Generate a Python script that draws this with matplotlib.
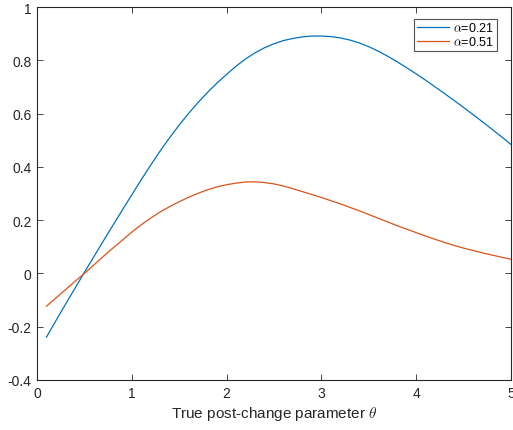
import matplotlib
matplotlib.use("Agg")
import matplotlib.pyplot as plt

theta = [0.1, 0.2, 0.3, 0.4, 0.5, 0.6, 0.7, 0.8, 0.9, 1.0,
         1.1, 1.2, 1.3, 1.4, 1.5, 1.6, 1.7, 1.8, 1.9, 2.0,
         2.1, 2.2, 2.3, 2.4, 2.5, 2.6, 2.7, 2.8, 2.9, 3.0,
         3.1, 3.2, 3.3, 3.4, 3.5, 3.6, 3.7, 3.8, 3.9, 4.0,
         4.1, 4.2, 4.3, 4.4, 4.5, 4.6, 4.7, 4.8, 4.9, 5.0]
y_a021 = [-0.239, -0.177, -0.116, -0.056, 0.004, 0.063, 0.122, 0.180, 0.238, 0.295,
          0.352, 0.407, 0.460, 0.510, 0.557, 0.601, 0.642, 0.680, 0.715, 0.747,
          0.778, 0.805, 0.828, 0.847, 0.862, 0.874, 0.882, 0.888, 0.891, 0.891,
          0.889, 0.884, 0.876, 0.865, 0.851, 0.834, 0.815, 0.794, 0.772, 0.749,
          0.725, 0.700, 0.675, 0.649, 0.623, 0.596, 0.569, 0.541, 0.513, 0.484]
y_a051 = [-0.123, -0.092, -0.061, -0.030, 0.000, 0.032, 0.064, 0.095, 0.125, 0.155,
          0.183, 0.208, 0.231, 0.251, 0.269, 0.286, 0.301, 0.314, 0.325, 0.333,
          0.339, 0.343, 0.344, 0.341, 0.336, 0.328, 0.318, 0.307, 0.296, 0.285,
          0.273, 0.261, 0.248, 0.235, 0.221, 0.207, 0.193, 0.179, 0.166, 0.153,
          0.140, 0.128, 0.116, 0.105, 0.095, 0.086, 0.077, 0.069, 0.061, 0.053]
labels = [r'$\alpha$=0.21', r'$\alpha$=0.51']
xticks = [0, 1, 2, 3, 4, 5]
yticks = [-0.4, -0.2, 0, 0.2, 0.4, 0.6, 0.8, 1]
yticklabels = ['-0.4', '-0.2', '0', '0.2', '0.4', '0.6', '0.8', '1']

plt.rcParams['font.family'] = ['Liberation Sans', 'DejaVu Sans']
plt.rcParams['axes.unicode_minus'] = False
plt.rcParams['mathtext.fontset'] = 'cm'

fig = plt.figure(figsize=(5.13, 4.31), dpi=100)
ax = fig.add_axes([37/513, (431-381)/431, (511-37)/513, (381-8)/431])

ax.plot(theta, y_a021, color='#0072BD', lw=0.9, label=labels[0])
ax.plot(theta, y_a051, color='#D95319', lw=0.9, label=labels[1])

ax.set_xlim(0, 5)
ax.set_ylim(-0.4, 1)
ax.set_xticks(xticks)
ax.set_xticklabels([str(t) for t in xticks])
ax.set_yticks(yticks)
ax.set_yticklabels(yticklabels)
ax.tick_params(direction='in', length=4, width=0.6, labelsize=10,
               colors='#262626', top=True, right=True, pad=4)
ax.tick_params(labeltop=False, labelright=False)
for s in ax.spines.values():
    s.set_linewidth(0.8)
    s.set_color('#262626')

ax.set_xlabel(r'True post-change parameter $\theta$', fontsize=11, color='#262626', labelpad=3)

leg = ax.legend(loc='upper right', bbox_to_anchor=(0.97, 0.968), fontsize=9,
                frameon=True, fancybox=False, edgecolor='#262626',
                handlelength=2.6, handletextpad=0.3, borderpad=0.2,
                labelspacing=0.05, borderaxespad=0)
leg.get_frame().set_linewidth(0.8)

fig.savefig('out.png', dpi=100)
